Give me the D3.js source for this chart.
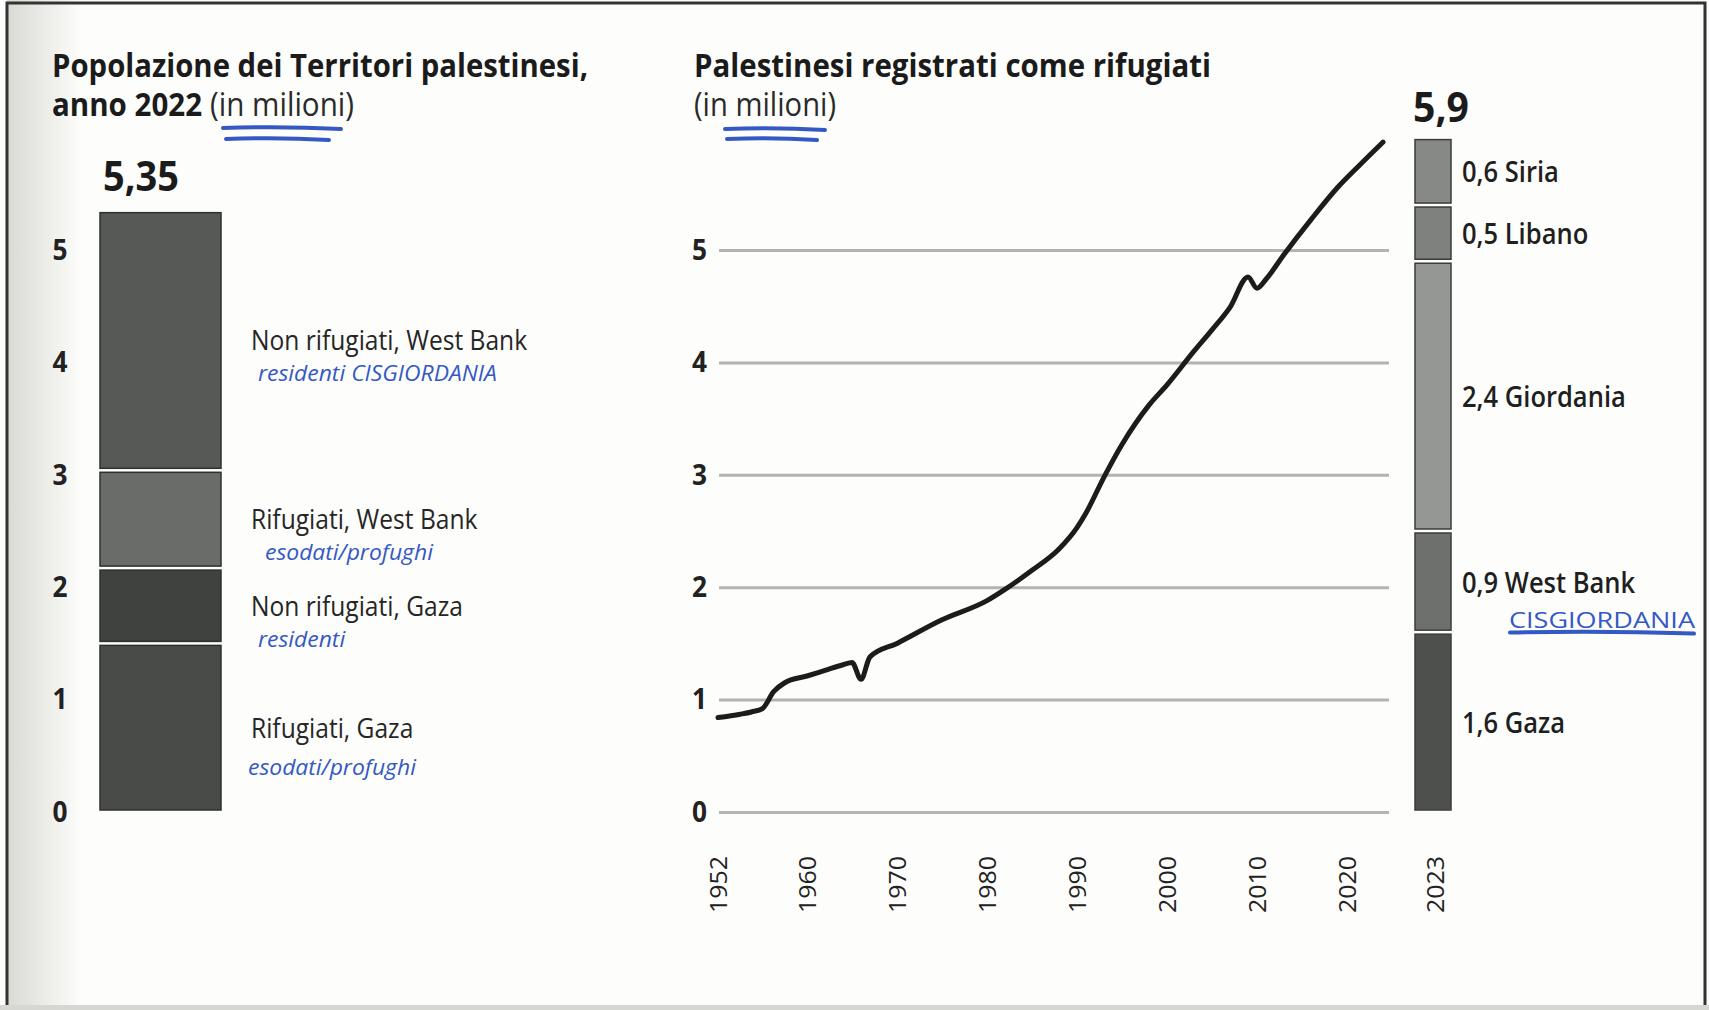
<!DOCTYPE html>
<html>
<head>
<meta charset="utf-8">
<title>Territori palestinesi e rifugiati</title>
<script src="https://cdnjs.cloudflare.com/ajax/libs/d3/7.8.5/d3.min.js"></script>
<style>
    body { margin: 0; background: #fff; }
    text { font-family: "Open Sans", Roboto, sans-serif; }
</style>
</head>
<body>
<div id="graph"></div>
<script>
    // --- data ---
    var leftCats = ["Rifugiati, Gaza", "Non rifugiati, Gaza", "Rifugiati, West Bank", "Non rifugiati, West Bank"];
    var leftValues = [1.5, 0.67, 0.87, 2.31];
    var leftNotes = ["esodati/profughi", "residenti", "esodati/profughi", "residenti CISGIORDANIA"];

    var years = [1952, 1954, 1955, 1956, 1957, 1958, 1960, 1962, 1964, 1965, 1966, 1967, 1970, 1975, 1980, 1982,
                 1985, 1988, 1990, 1991, 1993, 1995, 1998, 2000, 2003, 2005, 2007, 2009, 2010, 2011, 2013, 2016,
                 2019, 2021, 2023];
    var refugees = [0.84, 0.87, 0.89, 0.92, 1.07, 1.15, 1.21, 1.26, 1.31, 1.33, 1.18, 1.38, 1.50, 1.71, 1.88, 1.98,
                    2.15, 2.34, 2.53, 2.66, 2.98, 3.27, 3.62, 3.80, 4.10, 4.29, 4.49, 4.76, 4.66, 4.74, 4.96, 5.27,
                    5.56, 5.75, 5.96];

    var rightCats = ["Gaza", "West Bank", "Giordania", "Libano", "Siria"];
    var rightValues = [1.6, 0.9, 2.4, 0.5, 0.6];
    var rightTotal = 5.9;
    var rightNote = "CISGIORDANIA"; // handwritten under West Bank

    var xTicks = [1952, 1960, 1970, 1980, 1990, 2000, 2010, 2020];
    var barYear = 2023;
    var yTicks = [0, 1, 2, 3, 4, 5];

    var leftColors = ["#494b49", "#3f423f", "#6a6c6a", "#575957"];
    var rightColors = ["#4e504e", "#6e706e", "#959795", "#7f817f", "#878987"];

    // --- setup ---
    var width = 1709, height = 1010;
    var blue = "#3459c4";
    var fmt = d3.formatLocale({decimal: ",", thousands: ".", grouping: [3], currency: ["", "€"]});

    var svg = d3.select("#graph").append("svg")
        .attr("width", width)
        .attr("height", height);

    var defs = svg.append("defs");
    var grad = defs.append("linearGradient").attr("id", "edge");
    grad.append("stop").attr("offset", "0%").attr("stop-color", "#d9dad4");
    grad.append("stop").attr("offset", "100%").attr("stop-color", "#fdfdfb");

    svg.append("rect").attr("width", width).attr("height", height).attr("fill", "#fdfdfb");
    svg.append("rect").attr("x", 7).attr("width", 75).attr("height", height).attr("fill", "url(#edge)");
    svg.append("rect").attr("y", 1005).attr("width", width).attr("height", 5).attr("fill", "#d6d6d2");
    // scan frame
    svg.append("path")
        .attr("d", "M7,1005 L7,3 L1705,3 L1705,1005")
        .attr("fill", "none").attr("stroke", "#333").attr("stroke-width", 3);

    // squeeze text to a given width (source font is condensed)
    function fit(sel, w) {
        sel.attr("textLength", w).attr("lengthAdjust", "spacingAndGlyphs");
    }
    function squeeze(sel, k) {
        sel.each(function () {
            var w = this.getComputedTextLength();
            d3.select(this).attr("textLength", w * k).attr("lengthAdjust", "spacingAndGlyphs");
        });
    }
    function underline(x1, x2, yy) {
        svg.append("path")
            .attr("d", "M" + x1 + "," + yy + " Q" + ((x1 + x2) / 2) + "," + (yy - 2) + " " + x2 + "," + (yy + 1))
            .attr("fill", "none").attr("stroke", blue).attr("stroke-width", 4).attr("stroke-linecap", "round");
    }
    function title(x0, y0, str, w, weight) {
        return svg.append("text").attr("x", x0).attr("y", y0)
            .attr("font-family", "Roboto, sans-serif")
            .attr("font-size", 32).attr("font-weight", weight)
            .attr("fill", weight > 500 ? "#1b1b1b" : "#2a2a2a")
            .text(str).call(fit, w);
    }

    var y = d3.scaleLinear().domain([0, 6]).range([812, 137.6]);

    // --- left: population 2022 ---
    title(52, 77, "Popolazione dei Territori palestinesi,", 536, 700);
    title(52, 116, "anno 2022", 150, 700);
    title(210, 116, "(in milioni)", 144, 400);
    underline(223, 341, 128);
    underline(226, 329, 139);

    var leftTop = d3.cumsum(leftValues);
    var barL = {x: 100, w: 121};

    svg.append("g").selectAll("rect")
        .data(leftValues)
        .enter().append("rect")
        .attr("x", barL.x)
        .attr("width", barL.w)
        .attr("y", function (d, i) { return y(leftTop[i]) + 2; })
        .attr("height", function (d, i) { return y(leftTop[i] - d) - y(leftTop[i]) - 4; })
        .attr("fill", function (d, i) { return leftColors[i]; })
        .attr("stroke", "#2e302e").attr("stroke-width", 1.5);

    svg.append("text")
        .attr("x", barL.x + 3).attr("y", y(d3.sum(leftValues)) - 20)
        .attr("font-size", 42).attr("font-weight", 700).attr("fill", "#1b1b1b")
        .text(fmt.format(".2f")(d3.sum(leftValues))).call(fit, 76);

    var axL = svg.append("g").attr("transform", "translate(75,0)")
        .call(d3.axisLeft(y).tickValues(yTicks).tickSize(0).tickFormat(d3.format("d")));
    axL.select(".domain").remove();
    axL.selectAll("text")
        .attr("x", -15).attr("text-anchor", "middle")
        .attr("font-size", 29).attr("font-weight", 700).attr("fill", "#222")
        .attr("font-family", "'Open Sans', sans-serif")
        .call(fit, 15);

    var labL = svg.append("g").selectAll("g")
        .data(leftCats)
        .enter().append("g")
        .attr("transform", function (d, i) {
            return "translate(251," + y(leftTop[i] - leftValues[i] / 2) + ")";
        });
    labL.append("text")
        .attr("y", 10)
        .attr("font-size", 27).attr("fill", "#262626")
        .text(function (d) { return d; })
        .call(squeeze, 0.91);
    labL.append("text")
        .attr("x", function (d, i) { return i === 1 || i === 3 ? 7 : (i === 2 ? 14 : -3); })
        .attr("y", function (d, i) { return i === 0 ? 47 : 41; })
        .attr("font-size", 22).attr("font-style", "italic").attr("fill", blue)
        .attr("font-family", "'DejaVu Serif', serif")
        .text(function (d, i) { return leftNotes[i]; })
        .call(squeeze, 1.04);

    // --- right: registered refugees ---
    title(694, 77, "Palestinesi registrati come rifugiati", 517, 700);
    title(694, 116, "(in milioni)", 142, 400);
    underline(725, 825, 129);
    underline(727, 817, 139);

    var x = d3.scaleLinear().domain([1952, 1960, 2020, 2023]).range([718, 807, 1347, 1383]);
    var gridX0 = 719, gridX1 = 1389;

    var axR = svg.append("g").attr("transform", "translate(" + gridX0 + ",0)")
        .call(d3.axisLeft(y).tickValues(yTicks).tickSize(-(gridX1 - gridX0)).tickPadding(12).tickFormat(d3.format("d")));
    axR.select(".domain").remove();
    axR.selectAll(".tick line").attr("stroke", "#b3b4ad").attr("stroke-width", 3);
    axR.selectAll("text")
        .attr("font-size", 29).attr("font-weight", 700).attr("fill", "#222")
        .attr("font-family", "'Open Sans', sans-serif")
        .call(fit, 15);

    var line = d3.line()
        .x(function (d, i) { return x(years[i]); })
        .y(function (d) { return y(d); })
        .curve(d3.curveMonotoneX);
    svg.append("path")
        .datum(refugees)
        .attr("d", line)
        .attr("fill", "none")
        .attr("stroke", "#1c1c1c")
        .attr("stroke-width", 5)
        .attr("stroke-linejoin", "round")
        .attr("stroke-linecap", "round");

    var axX = svg.append("g").attr("transform", "translate(0,850)")
        .call(d3.axisBottom(x).tickValues(xTicks).tickSize(0).tickFormat(d3.format("d")));
    axX.select(".domain").remove();
    axX.selectAll("text")
        .attr("transform", "rotate(-90)")
        .attr("x", -6).attr("y", 0).attr("dy", "0.35em")
        .attr("text-anchor", "end")
        .attr("font-size", 23).attr("fill", "#222")
        .call(fit, 57);

    // stacked bar 2023
    var barR = {x: 1415, w: 36};
    var rightTop = d3.cumsum(rightValues);
    svg.append("g").selectAll("rect")
        .data(rightValues)
        .enter().append("rect")
        .attr("x", barR.x)
        .attr("width", barR.w)
        .attr("y", function (d, i) { return y(rightTop[i]) + 2; })
        .attr("height", function (d, i) { return y(rightTop[i] - d) - y(rightTop[i]) - 4; })
        .attr("fill", function (d, i) { return rightColors[i]; })
        .attr("stroke", "#3a3c3a").attr("stroke-width", 1.5);

    svg.append("text")
        .attr("x", barR.x - 2).attr("y", y(d3.sum(rightValues)) - 16)
        .attr("font-size", 42).attr("font-weight", 700).attr("fill", "#1b1b1b")
        .text(fmt.format(".1f")(rightTotal)).call(fit, 56);

    svg.append("text")
        .attr("transform", "translate(" + (barR.x + barR.w / 2 + 3) + ",856) rotate(-90)")
        .attr("dy", "0.35em").attr("text-anchor", "end")
        .attr("font-size", 23).attr("fill", "#222")
        .text(barYear).call(fit, 57);

    svg.append("g").selectAll("text")
        .data(rightCats)
        .enter().append("text")
        .attr("x", 1462)
        .attr("y", function (d, i) { return y(rightTop[i] - rightValues[i] / 2) + 11; })
        .attr("font-size", 29).attr("font-weight", 600).attr("fill", "#1f1f1f")
        .text(function (d, i) { return fmt.format(".1f")(rightValues[i]) + " " + d; })
        .call(squeeze, 0.88);

    var wbIndex = rightCats.indexOf("West Bank");
    svg.append("text")
        .attr("x", 1509).attr("y", y(rightTop[wbIndex] - rightValues[wbIndex] / 2) + 46)
        .attr("font-size", 21).attr("fill", blue)
        .attr("font-family", "'DejaVu Sans', sans-serif")
        .text(rightNote).call(fit, 186);
    underline(1510, 1694, y(rightTop[wbIndex] - rightValues[wbIndex] / 2) + 51);
</script>
</body>
</html>
